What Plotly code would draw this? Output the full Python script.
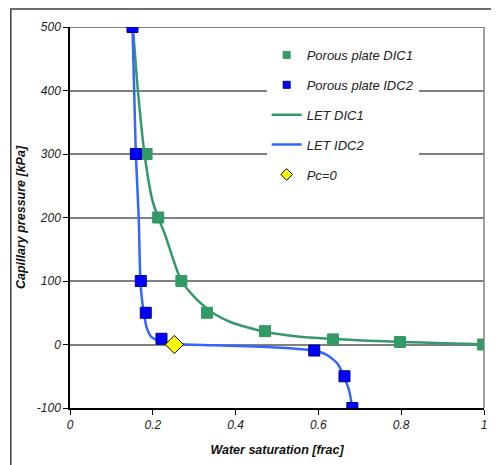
"""Capillary pressure curves: porous plate data and LET fits."""

import plotly.graph_objects as go

# --- Data ---
plate_dic1_sw = [0.185, 0.213, 0.269, 0.331, 0.471, 0.635, 0.797, 0.998]
plate_dic1_pc = [300, 200, 100, 50, 21, 8, 4, 0]

plate_idc2_sw = [0.151, 0.159, 0.171, 0.183, 0.221, 0.590, 0.663, 0.682]
plate_idc2_pc = [500, 300, 100, 50, 9, -9.5, -50, -100]

let_dic1_sw = [0.152, 0.164, 0.180, 0.199, 0.213, 0.229, 0.269, 0.309,
               0.349, 0.389, 0.469, 0.550, 0.630, 0.720, 0.800, 0.900, 1.000]
let_dic1_pc = [500, 400, 300, 227, 200, 174, 100, 69,
               48, 35, 20, 12.6, 9, 6, 4, 2, 0.5]

let_idc2_sw = [0.151, 0.155, 0.159, 0.166, 0.170, 0.174, 0.179, 0.185,
               0.197, 0.221, 0.269, 0.389, 0.510, 0.582, 0.600, 0.622,
               0.646, 0.662, 0.674, 0.682]
let_idc2_pc = [500, 400, 300, 200, 100, 70, 48, 27,
               11.5, 3.7, 0.5, -2, -5, -9, -11, -17,
               -30, -51, -72, -100]

pc0_sw = [0.252]
pc0_pc = [0]

x_ticks = [0, 0.2, 0.4, 0.6, 0.8, 1]
x_tick_labels = ["0", "0.2", "0.4", "0.6", "0.8", "1"]
y_ticks = [-100, 0, 100, 200, 300, 400, 500]
y_tick_labels = ["-100", "0", "100", "200", "300", "400", "500"]
dark_grid = [100, 300, 500]

GREEN = "#339966"
BLUE_MARK = "#0000FF"
BLUE_LINE = "#3366FF"
FONT = "Liberation Sans, Arial, sans-serif"

fig = go.Figure()

# Courbes LET (sous les marqueurs)
fig.add_trace(go.Scatter(
    x=let_dic1_sw, y=let_dic1_pc, mode="lines", name="LET DIC1",
    line=dict(color=GREEN, width=2.5, shape="spline", smoothing=0.6),
    legendgroup="c", legendrank=3,
))
fig.add_trace(go.Scatter(
    x=let_idc2_sw, y=let_idc2_pc, mode="lines", name="LET IDC2",
    line=dict(color=BLUE_LINE, width=2.5, shape="spline", smoothing=0.6),
    legendgroup="d", legendrank=4,
))

# Mesures plaque poreuse
square_green = dict(symbol="square", color=GREEN, line=dict(color=GREEN, width=1))
square_blue = dict(symbol="square", color=BLUE_MARK, line=dict(color="#000080", width=1))
diamond = dict(symbol="diamond", color="#FFFF00", line=dict(color="black", width=1))

fig.add_trace(go.Scatter(
    x=plate_dic1_sw, y=plate_dic1_pc, mode="markers", name="Porous plate DIC1",
    marker=dict(size=11, **square_green), showlegend=False,
))
fig.add_trace(go.Scatter(
    x=plate_idc2_sw, y=plate_idc2_pc, mode="markers", name="Porous plate IDC2",
    marker=dict(size=11, **square_blue), showlegend=False,
))
fig.add_trace(go.Scatter(
    x=pc0_sw, y=pc0_pc, mode="markers", name="Pc=0",
    marker=dict(size=14, **diamond), showlegend=False,
))

# Entrées de légende avec des symboles plus petits (comme Excel)
for name, mk, size, group, rank in [
    ("Porous plate DIC1", square_green, 7, "a", 1),
    ("Porous plate IDC2", square_blue, 7, "b", 2),
    ("Pc=0", diamond, 9, "e", 5),
]:
    fig.add_trace(go.Scatter(
        x=[None], y=[None], mode="markers", name=name,
        marker=dict(size=size, **mk), legendgroup=group, legendrank=rank,
    ))

# Lignes de grille noires
shapes = [
    dict(type="line", xref="paper", x0=0, x1=1, yref="y", y0=v, y1=v,
         line=dict(color="black", width=1.2), layer="below")
    for v in dark_grid
]
# Bord droit gris
shapes.append(dict(type="line", xref="paper", x0=1, x1=1, yref="paper",
                   y0=0, y1=1, line=dict(color="#808080", width=1.5)))
# Cadre extérieur
shapes.append(dict(type="rect", xref="paper", yref="paper",
                   x0=-0.143, x1=1.3, y0=-0.3, y1=1.047,
                   line=dict(color="#404040", width=1.5), layer="below"))

axis_font = dict(family=FONT, size=12, color="#222222", style="italic")

fig.update_layout(
    width=499,
    height=465,
    margin=dict(l=60, r=23, t=19, b=65),
    plot_bgcolor="white",
    paper_bgcolor="white",
    showlegend=True,
    legend=dict(
        x=0.475, y=0.966, xanchor="left", yanchor="top",
        bgcolor="white", borderwidth=0,
        font=dict(family=FONT, size=13, color="#222222", style="italic"),
        traceorder="grouped", tracegroupgap=10,
        itemwidth=30,
    ),
    shapes=shapes,
    xaxis=dict(
        range=[0, 1],
        tickvals=x_ticks, ticktext=x_tick_labels,
        tickfont=axis_font,
        showgrid=False, zeroline=False,
        showline=True, linecolor="black", linewidth=1.5,
        ticks="outside", ticklen=5, tickcolor="black",
        title=dict(text="Water saturation [frac]", standoff=14,
                   font=dict(family=FONT, size=12.5, color="#111111",
                             style="italic", weight="bold")),
    ),
    yaxis=dict(
        range=[-100, 500],
        tickvals=y_ticks, ticktext=y_tick_labels,
        tickfont=axis_font,
        showgrid=True, gridcolor="#808080", gridwidth=1.5,
        zeroline=False,
        showline=True, linecolor="black", linewidth=1.5,
        ticks="outside", ticklen=5, tickcolor="black",
        title=dict(text="Capillary pressure [kPa]", standoff=8,
                   font=dict(family=FONT, size=12.5, color="#111111",
                             style="italic", weight="bold")),
    ),
)

fig.write_html("out.html")
